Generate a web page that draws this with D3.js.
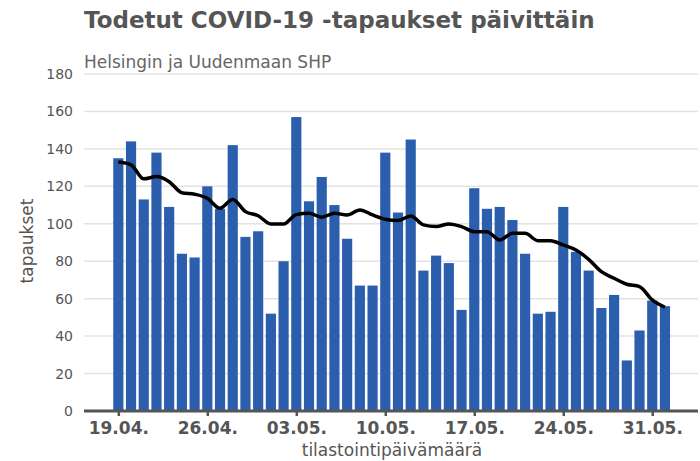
<!DOCTYPE html>
<html>
<head>
<meta charset="utf-8">
<script src="https://cdn.jsdelivr.net/npm/d3@7"></script>
<style>
  body { margin: 0; background: #fff; }
  svg { display: block; font-family: "DejaVu Sans", sans-serif; }
</style>
</head>
<body>
<div id="chart"></div>
<script>
// daily confirmed cases, starting 19.04.
const startDate = "2020-04-19";
const cases = [135, 144, 113, 138, 109, 84, 82, 120, 108, 142, 93, 96, 52, 80,
               157, 112, 125, 110, 92, 67, 67, 138, 106, 145, 75, 83, 79, 54,
               119, 108, 109, 102, 84, 52, 53, 109, 85, 75, 55, 62, 27, 43, 59, 56];
// 7-day moving average (black line)
const average = [133, 131.5, 124, 125.2, 122.5, 116.6, 115.8, 113.6, 108.3, 113, 106.5, 104.3, 99.9, 99.9,
                 104.9, 105.6, 103.5, 105.6, 104.7, 107.4, 104.7, 102.4, 101.7, 104.2, 99.4, 98.5, 99.9, 98.5,
                 95.8, 95.8, 91.3, 94.9, 94.9, 91, 91, 88.7, 86, 81, 74.4, 70.9, 67.7, 66.4, 59.3, 55.4];
const yTicks = [0, 20, 40, 60, 80, 100, 120, 140, 160, 180];
const xTickDates = ["2020-04-19", "2020-04-26", "2020-05-03", "2020-05-10", "2020-05-17", "2020-05-24", "2020-05-31"];

const titleText = "Todetut COVID-19 -tapaukset päivittäin";
const subtitleText = "Helsingin ja Uudenmaan SHP";
const xLabel = "tilastointipäivämäärä";
const yLabel = "tapaukset";

const W = 700, H = 461;
const margin = {top: 74, right: 2, bottom: 50, left: 84};
const width = W - margin.left - margin.right;
const height = H - margin.top - margin.bottom;

const parse = d3.utcParse("%Y-%m-%d");
const start = parse(startDate);
const data = cases.map((v, i) => ({date: d3.utcDay.offset(start, i), value: v, avg: average[i]}));

const svg = d3.select("#chart").append("svg")
    .attr("width", W).attr("height", H);

const g = svg.append("g")
    .attr("transform", "translate(" + margin.left + "," + margin.top + ")");

const dayMs = 24 * 3600 * 1000;
const x = d3.scaleUtc()
    .domain([new Date(+start - 2.7 * dayMs), new Date(+start + 45.6 * dayMs)])
    .range([0, width]);

const y = d3.scaleLinear()
    .domain([0, 180])
    .range([height, 0]);

const barW = x(new Date(+start + 0.8 * dayMs)) - x(start);

// grid
g.append("g").attr("class", "grid")
    .selectAll("line")
    .data(yTicks.filter(d => d > 0))
    .join("line")
    .attr("x1", 0).attr("x2", width)
    .attr("y1", d => y(d)).attr("y2", d => y(d))
    .attr("stroke", "#e3e3e3")
    .attr("stroke-width", 1.5);

// y axis labels
const yAxis = d3.axisLeft(y).tickValues(yTicks).tickSize(0).tickPadding(11);
g.append("g").attr("class", "y-axis")
    .call(yAxis)
    .call(s => s.select(".domain").remove())
    .selectAll("text")
    .attr("fill", "#555")
    .style("font-family", "DejaVu Sans, sans-serif")
    .style("font-size", "14px");

// bars
g.selectAll(".bar")
    .data(data)
    .join("rect")
    .attr("class", "bar")
    .attr("x", d => x(d.date) - barW / 2)
    .attr("width", barW)
    .attr("y", d => y(d.value))
    .attr("height", d => y(0) - y(d.value))
    .attr("fill", "#2b5fae");

// moving average
const line = d3.line()
    .x(d => x(d.date))
    .y(d => y(d.avg))
    .curve(d3.curveMonotoneX);

g.append("path")
    .datum(data)
    .attr("fill", "none")
    .attr("stroke", "#000")
    .attr("stroke-width", 3.5)
    .attr("stroke-linejoin", "round")
    .attr("d", line);

// x axis
const xAxis = d3.axisBottom(x)
    .tickValues(xTickDates.map(parse))
    .tickFormat(d3.utcFormat("%d.%m."))
    .tickSize(5)
    .tickPadding(6);

const xg = g.append("g").attr("class", "x-axis")
    .attr("transform", "translate(0," + height + ")")
    .call(xAxis);
xg.select(".domain")
    .attr("d", "M0,0H" + width)
    .attr("stroke", "#555")
    .attr("stroke-width", 3);
xg.selectAll(".tick line").attr("stroke", "#555").attr("stroke-width", 2.5);
xg.selectAll("text")
    .attr("fill", "#555")
    .style("font-family", "DejaVu Sans, sans-serif")
    .style("font-weight", "bold")
    .style("font-size", "17px");

// labels
svg.append("text")
    .attr("x", 392)
    .attr("y", 456)
    .attr("text-anchor", "middle")
    .attr("fill", "#555")
    .style("font-size", "17px")
    .text(xLabel);

svg.append("text")
    .attr("transform", "rotate(-90)")
    .attr("x", -241)
    .attr("y", 33)
    .attr("text-anchor", "middle")
    .attr("fill", "#555")
    .style("font-size", "17px")
    .text(yLabel);

svg.append("text")
    .attr("x", 84)
    .attr("y", 28)
    .attr("fill", "#555")
    .style("font-size", "23px")
    .style("font-weight", "bold")
    .text(titleText);

svg.append("text")
    .attr("x", 84)
    .attr("y", 68)
    .attr("fill", "#666")
    .style("font-size", "17px")
    .text(subtitleText);
</script>
</body>
</html>
